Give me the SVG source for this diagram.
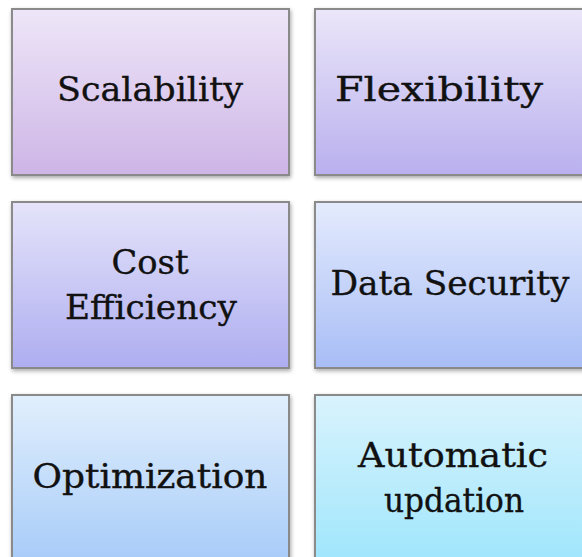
<svg xmlns="http://www.w3.org/2000/svg" width="582" height="557" viewBox="0 0 582 557">
<defs>
<style>
.box{stroke:#8a8a8a;stroke-width:2;filter:url(#sh)}
.t{font-family:"DejaVu Serif","Liberation Serif",serif;font-size:33px;fill:#111;stroke:#111;stroke-width:0.35px;text-anchor:middle}
</style>
<filter id="sh" x="-10%" y="-10%" width="130%" height="130%">
<feGaussianBlur in="SourceAlpha" stdDeviation="2"/>
<feOffset dx="1" dy="2" result="b"/>
<feComponentTransfer><feFuncA type="linear" slope="0.35"/></feComponentTransfer>
<feMerge><feMergeNode/><feMergeNode in="SourceGraphic"/></feMerge>
</filter>
<linearGradient id="g1" x1="0" y1="0" x2="0" y2="1"><stop offset="0" stop-color="#eee6f8"/><stop offset="1" stop-color="#cdb5e6"/></linearGradient>
<linearGradient id="g2" x1="0" y1="0" x2="0" y2="1"><stop offset="0" stop-color="#ebe6f9"/><stop offset="1" stop-color="#b9b0ee"/></linearGradient>
<linearGradient id="g3" x1="0" y1="0" x2="0" y2="1"><stop offset="0" stop-color="#e5e4fa"/><stop offset="1" stop-color="#aeadf0"/></linearGradient>
<linearGradient id="g4" x1="0" y1="0" x2="0" y2="1"><stop offset="0" stop-color="#e4ebfd"/><stop offset="1" stop-color="#a8bdf6"/></linearGradient>
<linearGradient id="g5" x1="0" y1="0" x2="0" y2="1"><stop offset="0" stop-color="#e1effd"/><stop offset="1" stop-color="#a8ccf8"/></linearGradient>
<linearGradient id="g6" x1="0" y1="0" x2="0" y2="1"><stop offset="0" stop-color="#d9f3fd"/><stop offset="1" stop-color="#a0e6fc"/></linearGradient>
</defs>
<rect width="582" height="557" fill="#fff"/>
<g id="node-scalability">
<rect class="box" x="12" y="9" width="277" height="166" fill="url(#g1)"/>
<text class="t" x="150" y="101" textLength="186" lengthAdjust="spacingAndGlyphs">Scalability</text>
</g>
<g id="node-flexibility">
<rect class="box" x="315" y="9" width="277" height="166" fill="url(#g2)"/>
<text class="t" x="439" y="101" textLength="208" lengthAdjust="spacingAndGlyphs">Flexibility</text>
</g>
<g id="node-cost">
<rect class="box" x="12" y="202" width="277" height="166" fill="url(#g3)"/>
<text class="t" x="150" y="274" textLength="77" lengthAdjust="spacingAndGlyphs">Cost</text>
<text class="t" x="151" y="319" textLength="172" lengthAdjust="spacingAndGlyphs">Efficiency</text>
</g>
<g id="node-security">
<rect class="box" x="315" y="202" width="277" height="166" fill="url(#g4)"/>
<text class="t" x="450" y="295" textLength="239" lengthAdjust="spacingAndGlyphs">Data Security</text>
</g>
<g id="node-optimization">
<rect class="box" x="12" y="395" width="277" height="166" fill="url(#g5)"/>
<text class="t" x="150" y="488" textLength="235" lengthAdjust="spacingAndGlyphs">Optimization</text>
</g>
<g id="node-automatic">
<rect class="box" x="315" y="395" width="277" height="166" fill="url(#g6)"/>
<text class="t" x="453" y="467" textLength="190" lengthAdjust="spacingAndGlyphs">Automatic</text>
<text class="t" x="454" y="512" textLength="140" lengthAdjust="spacingAndGlyphs">updation</text>
</g>
<g id="connectors"/>
</svg>
